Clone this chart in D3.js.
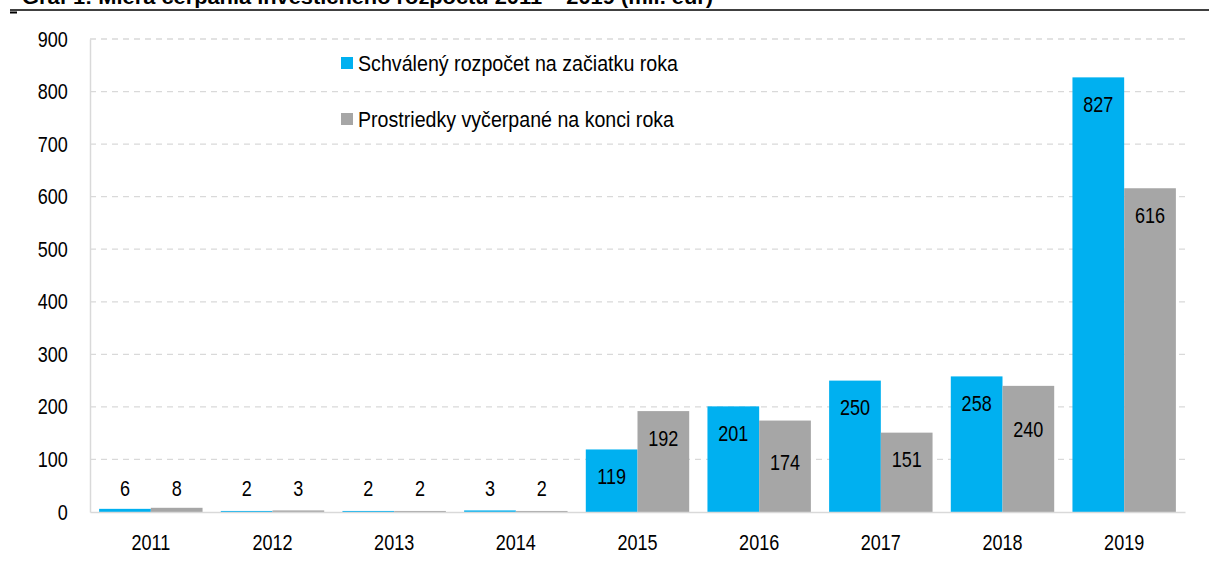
<!DOCTYPE html>
<html>
<head>
<meta charset="utf-8">
<script src="https://cdn.jsdelivr.net/npm/d3@7"></script>
<style>
  body { margin: 0; background: #fff; }
  text { font-family: "Liberation Sans", Arial, sans-serif; }
</style>
</head>
<body>
<div id="chart"></div>
<script>
const years = ["2011", "2012", "2013", "2014", "2015", "2016", "2017", "2018", "2019"];
const approved = [6, 2, 2, 3, 119, 201, 250, 258, 827];
const spent = [8, 3, 2, 2, 192, 174, 151, 240, 616];
const seriesNames = ["Schválený rozpočet na začiatku roka", "Prostriedky vyčerpané na konci roka"];
const yTicks = [0, 100, 200, 300, 400, 500, 600, 700, 800, 900];
const title = "Graf 1: Miera čerpania investičného rozpočtu 2011 – 2019 (mil. eur)";

function init() {
  const W = 1209, H = 570;
  const margin = { top: 39, right: 24, bottom: 58, left: 90 };
  const width = W - margin.left - margin.right;
  const height = H - margin.top - margin.bottom;
  const colors = ["#00b0f0", "#a6a6a6"];
  const narrow = 0.82; // fake Arial Narrow by squeezing Liberation Sans
  const fs = 22;
  // a couple of labels were nudged down by hand in the original
  const labelNudge = { "1-2016": 15, "1-2018": 16 };

  const svg = d3.select("#chart").append("svg")
    .attr("width", W)
    .attr("height", H);

  // cut-off title and rule at the very top
  svg.append("text")
    .attr("x", 22).attr("y", 4)
    .attr("font-size", 21).attr("font-weight", "bold")
    .attr("textLength", 691).attr("lengthAdjust", "spacingAndGlyphs")
    .attr("fill", "#000")
    .text(title);
  svg.append("line")
    .attr("x1", 10).attr("x2", W).attr("y1", 10).attr("y2", 10)
    .attr("stroke", "#000").attr("stroke-width", 1.5);
  svg.append("line")
    .attr("x1", 10).attr("x2", 17).attr("y1", 12.5).attr("y2", 12.5)
    .attr("stroke", "#000").attr("stroke-width", 2);

  const chart = svg.append("g")
    .attr("transform", "translate(" + margin.left + "," + margin.top + ")");

  const x = d3.scaleBand().domain(years).range([0, width]).padding(0);
  const y = d3.scaleLinear().domain([0, 900]).range([height, 0]);

  const groupW = x.bandwidth() * 0.85;
  const inner = d3.scaleBand().domain([0, 1]).range([0, groupW]);

  // gridlines
  chart.append("g").selectAll("line")
    .data(yTicks.filter(d => d > 0))
    .enter().append("line")
    .attr("x1", 0).attr("x2", width)
    .attr("y1", d => y(d)).attr("y2", d => y(d))
    .attr("stroke", "#d9d9d9").attr("stroke-width", 1.3)
    .attr("stroke-dasharray", "6,5");

  // y axis
  const yAxis = chart.append("g")
    .call(d3.axisLeft(y).tickValues(yTicks).tickSize(0).tickPadding(27));
  yAxis.select(".domain").attr("stroke", "#d9d9d9").attr("stroke-width", 1.5);
  yAxis.selectAll("text").attr("font-size", fs).attr("fill", "#000")
    .attr("font-family", "Liberation Sans, Arial, sans-serif")
    .attr("transform", "scale(" + narrow + ",1)");

  // bars
  const series = [approved, spent];
  series.forEach((vals, s) => {
    const g = chart.append("g");
    const rows = years.map((yr, i) => ({ yr: yr, v: vals[i] }));
    const bx = d => x(d.yr) + (x.bandwidth() - groupW) / 2 + inner(s);

    g.selectAll("rect")
      .data(rows)
      .enter().append("rect")
      .attr("x", bx)
      .attr("width", inner.bandwidth())
      .attr("y", d => y(d.v))
      .attr("height", d => height - y(d.v))
      .attr("fill", colors[s]);

    g.selectAll("text")
      .data(rows)
      .enter().append("text")
      .attr("transform", d => {
        const h = height - y(d.v);
        const ty = (h < 40 ? height - 24 : y(d.v) + 27) + (labelNudge[s + "-" + d.yr] || 0);
        return "translate(" + (bx(d) + inner.bandwidth() / 2) + "," + ty + ") scale(" + narrow + ",1)";
      })
      .attr("dy", "0.35em")
      .attr("text-anchor", "middle")
      .attr("font-size", fs)
      .attr("fill", "#000")
      .text(d => d.v);
  });

  // x axis
  const xAxis = chart.append("g")
    .attr("transform", "translate(0," + height + ")")
    .call(d3.axisBottom(x).tickSize(0).tickPadding(22));
  xAxis.select(".domain").attr("stroke", "#d9d9d9").attr("stroke-width", 1.5);
  xAxis.selectAll("text").attr("font-size", fs).attr("fill", "#000")
    .attr("font-family", "Liberation Sans, Arial, sans-serif")
    .attr("transform", "scale(" + narrow + ",1)");

  // legend
  const legend = svg.append("g");
  const legendLen = [320, 316];
  seriesNames.forEach((name, i) => {
    const ly = 63 + i * 56;
    legend.append("rect")
      .attr("x", 341).attr("y", ly - 6)
      .attr("width", 12).attr("height", 12)
      .attr("fill", colors[i]);
    legend.append("text")
      .attr("x", 358).attr("y", ly)
      .attr("dy", "0.35em")
      .attr("font-size", fs)
      .attr("textLength", legendLen[i]).attr("lengthAdjust", "spacingAndGlyphs")
      .attr("fill", "#000")
      .text(name);
  });
}

window.onload = init;
</script>
</body>
</html>
